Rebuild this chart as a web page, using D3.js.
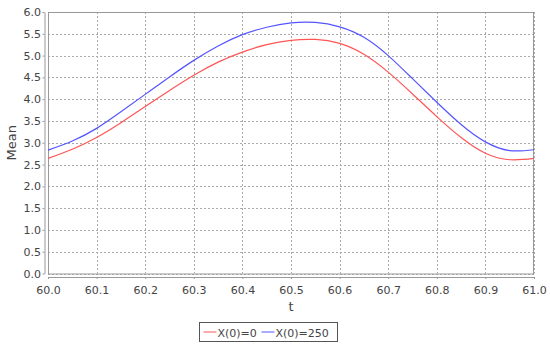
<!DOCTYPE html>
<html>
<head>
<meta charset="utf-8">
<script src="https://cdn.jsdelivr.net/npm/d3@7"></script>
<style>
  body { margin: 0; background: #fff; }
  text { font-family: "DejaVu Sans", sans-serif; fill: #444; }
</style>
</head>
<body>
<div id="chart"></div>
<script>
// Data
const tValues = [60.00, 60.05, 60.10, 60.15, 60.20, 60.25, 60.30, 60.35, 60.40, 60.45, 60.50,
                 60.55, 60.60, 60.65, 60.70, 60.75, 60.80, 60.85, 60.90, 60.95, 61.00];
const meanX0 = [2.64, 2.85, 3.12, 3.46, 3.83, 4.20, 4.55, 4.85, 5.08, 5.25, 5.35,
                5.37, 5.28, 5.03, 4.62, 4.12, 3.60, 3.12, 2.76, 2.61, 2.64];
const meanX250 = [2.83, 3.04, 3.33, 3.71, 4.11, 4.51, 4.89, 5.22, 5.48, 5.65, 5.75,
                  5.76, 5.66, 5.42, 5.00, 4.47, 3.93, 3.42, 3.02, 2.82, 2.84];
const seriesNames = ["X(0)=0", "X(0)=250"];
const seriesColors = ["#ff5555", "#5555ff"];
const xTicks = [60.0, 60.1, 60.2, 60.3, 60.4, 60.5, 60.6, 60.7, 60.8, 60.9, 61.0];
const yTicks = [0, 0.5, 1, 1.5, 2, 2.5, 3, 3.5, 4, 4.5, 5, 5.5, 6];

const width = 550;
const height = 346;
const margin = { top: 12, right: 16, bottom: 72.5, left: 48 };
const axisOffset = 3.5;

const svg = d3.select("#chart")
    .append("svg")
    .attr("width", width)
    .attr("height", height);

const x = d3.scaleLinear()
    .domain([60, 61])
    .range([margin.left, width - margin.right]);

const y = d3.scaleLinear()
    .domain([0, 6])
    .range([height - margin.bottom, margin.top]);

// Grid lines
svg.append("g")
    .selectAll("line")
    .data(xTicks)
    .enter()
    .append("line")
    .attr("x1", d => Math.round(x(d)) + 0.5)
    .attr("x2", d => Math.round(x(d)) + 0.5)
    .attr("y1", margin.top)
    .attr("y2", height - margin.bottom)
    .attr("stroke", "#aaa")
    .attr("stroke-dasharray", "2,2");

svg.append("g")
    .selectAll("line")
    .data(yTicks)
    .enter()
    .append("line")
    .attr("x1", margin.left)
    .attr("x2", width - margin.right)
    .attr("y1", d => Math.round(y(d)) + 0.5)
    .attr("y2", d => Math.round(y(d)) + 0.5)
    .attr("stroke", "#aaa")
    .attr("stroke-dasharray", "2,2");

// Plot outline
svg.append("rect")
    .attr("x", margin.left + 0.5)
    .attr("y", margin.top + 0.5)
    .attr("width", width - margin.right - margin.left - 1)
    .attr("height", height - margin.bottom - margin.top)
    .attr("fill", "none")
    .attr("stroke", "#999");

// Series lines
const line = d3.line()
    .x(d => x(d[0]))
    .y(d => y(d[1]))
    .curve(d3.curveNatural);

[meanX0, meanX250].forEach((vals, i) => {
    svg.append("path")
        .datum(tValues.map((t, j) => [t, vals[j]]))
        .attr("fill", "none")
        .attr("stroke", seriesColors[i])
        .attr("stroke-width", 1.2)
        .attr("d", line);
});

// Axes
const xAxis = d3.axisBottom(x)
    .tickValues(xTicks)
    .tickFormat(d3.format(".1f"))
    .tickSize(2)
    .tickSizeOuter(0);

const yAxis = d3.axisLeft(y)
    .tickValues(yTicks)
    .tickFormat(d3.format(".1f"))
    .tickSize(2)
    .tickSizeOuter(0);

const gx = svg.append("g")
    .attr("transform", `translate(0, ${height - margin.bottom + axisOffset})`)
    .call(xAxis);

const gy = svg.append("g")
    .attr("transform", `translate(${margin.left - axisOffset}, 0)`)
    .call(yAxis);

[gx, gy].forEach(g => {
    g.select(".domain").attr("stroke", "#999");
    g.selectAll(".tick line").attr("stroke", "#999");
    g.selectAll(".tick text")
        .attr("font-family", "DejaVu Sans, sans-serif")
        .attr("font-size", 11)
        .attr("fill", "#555");
});
gx.selectAll(".tick text").attr("dy", "1.05em");
gy.selectAll(".tick text").attr("x", -3.5);

// Axis titles
svg.append("text")
    .attr("x", (x.range()[0] + x.range()[1]) / 2)
    .attr("y", 311)
    .attr("text-anchor", "middle")
    .attr("font-size", 13)
    .text("t");

svg.append("text")
    .attr("transform", `translate(16, ${(y.range()[0] + y.range()[1]) / 2}) rotate(-90)`)
    .attr("text-anchor", "middle")
    .attr("font-size", 13)
    .text("Mean");

// Legend
const legend = svg.append("g")
    .attr("transform", "translate(199.5, 322.5)");

legend.append("rect")
    .attr("width", 138)
    .attr("height", 19)
    .attr("fill", "#fff")
    .attr("stroke", "#555");

const legendX = [4, 62];
seriesNames.forEach((name, i) => {
    legend.append("line")
        .attr("x1", legendX[i])
        .attr("x2", legendX[i] + 13)
        .attr("y1", 9.5)
        .attr("y2", 9.5)
        .attr("stroke", seriesColors[i]);
    legend.append("text")
        .attr("x", legendX[i] + 14)
        .attr("y", 14)
        .attr("font-size", 11)
        .text(name);
});
</script>
</body>
</html>
